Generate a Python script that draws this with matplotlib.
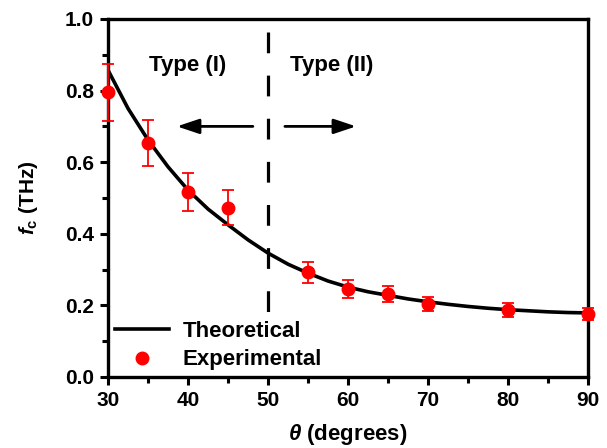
import matplotlib
matplotlib.use("Agg")
import matplotlib.pyplot as plt
from matplotlib.ticker import MultipleLocator, FormatStrFormatter

plt.rcParams['font.family'] = ['Liberation Sans', 'DejaVu Sans']
plt.rcParams['font.weight'] = 'bold'
plt.rcParams['axes.labelweight'] = 'bold'
plt.rcParams['mathtext.fontset'] = 'custom'
plt.rcParams['mathtext.it'] = 'Liberation Sans:bold:italic'
plt.rcParams['mathtext.rm'] = 'Liberation Sans:bold'

# theoretical cutoff curve
theta_theory = [30, 32.5, 35, 37.5, 40, 42.5, 45, 47.5, 50, 52.5, 55, 57.5, 60,
                62.5, 65, 67.5, 70, 72.5, 75, 77.5, 80, 82.5, 85, 87.5, 90]
fc_theory = [0.857, 0.750, 0.662, 0.587, 0.522, 0.469, 0.425, 0.383, 0.346, 0.315,
             0.290, 0.268, 0.251, 0.238, 0.228, 0.218, 0.210, 0.203, 0.197, 0.192,
             0.188, 0.185, 0.182, 0.180, 0.179]

# measured points with error bars
theta_exp = [30, 35, 40, 45, 55, 60, 65, 70, 80, 90]
fc_exp = [0.795, 0.653, 0.518, 0.473, 0.292, 0.247, 0.232, 0.203, 0.188, 0.176]
fc_err = [0.080, 0.065, 0.053, 0.048, 0.029, 0.025, 0.023, 0.020, 0.020, 0.018]

fig = plt.figure(figsize=(6.07, 4.48), dpi=100)
ax = fig.add_axes([0.178, 0.1585, 0.791, 0.7991])

ax.plot(theta_theory, fc_theory, color='black', lw=2.6, label='Theoretical', zorder=3)
ax.errorbar(theta_exp, fc_exp, yerr=fc_err, fmt='none', ecolor='red',
            elinewidth=1.3, capsize=4, capthick=1.3, zorder=4, clip_on=False)
ax.plot(theta_exp, fc_exp, 'o', color='red', ms=9, label='Experimental',
        zorder=5, clip_on=False)

# boundary between the two regimes
ax.plot([50, 50], [0.965, 0.16], color='black', lw=2.3,
        dashes=(6.5, 7.0), dash_capstyle='butt', zorder=2)

ax.text(40, 0.87, 'Type (I)', fontsize=16, ha='center', va='center')
ax.text(58, 0.87, 'Type (II)', fontsize=16, ha='center', va='center')
arrow_style = dict(arrowstyle='-|>,head_length=0.9,head_width=0.3',
                   lw=2, color='black', mutation_scale=15, shrinkA=0, shrinkB=0)
ax.annotate('', xy=(38.6, 0.70), xytext=(48.1, 0.70), arrowprops=arrow_style)
ax.annotate('', xy=(61.0, 0.70), xytext=(52.1, 0.70), arrowprops=arrow_style)

ax.set_xlim(30, 90)
ax.set_ylim(0, 1.0)
ax.xaxis.set_major_locator(MultipleLocator(10))
ax.xaxis.set_minor_locator(MultipleLocator(5))
ax.yaxis.set_major_locator(MultipleLocator(0.2))
ax.yaxis.set_minor_locator(MultipleLocator(0.1))
ax.yaxis.set_major_formatter(FormatStrFormatter('%.1f'))
ax.tick_params(which='major', direction='out', length=6, width=2.2,
               labelsize=15, pad=4)
ax.tick_params(which='minor', direction='out', length=4, width=2.2)
for s in ax.spines.values():
    s.set_linewidth(2.4)

ax.set_xlabel(r'$\theta$ (degrees)', fontsize=16, labelpad=9)
ax.set_ylabel(r'$f_{\mathrm{c}}$ (THz)', fontsize=15, labelpad=18)

ax.legend(loc='lower left', frameon=False, fontsize=16, handlelength=2.45,
          handletextpad=0.6, labelspacing=0.35, borderaxespad=0.1,
          borderpad=0.2)

fig.savefig('out.png', dpi=100)
